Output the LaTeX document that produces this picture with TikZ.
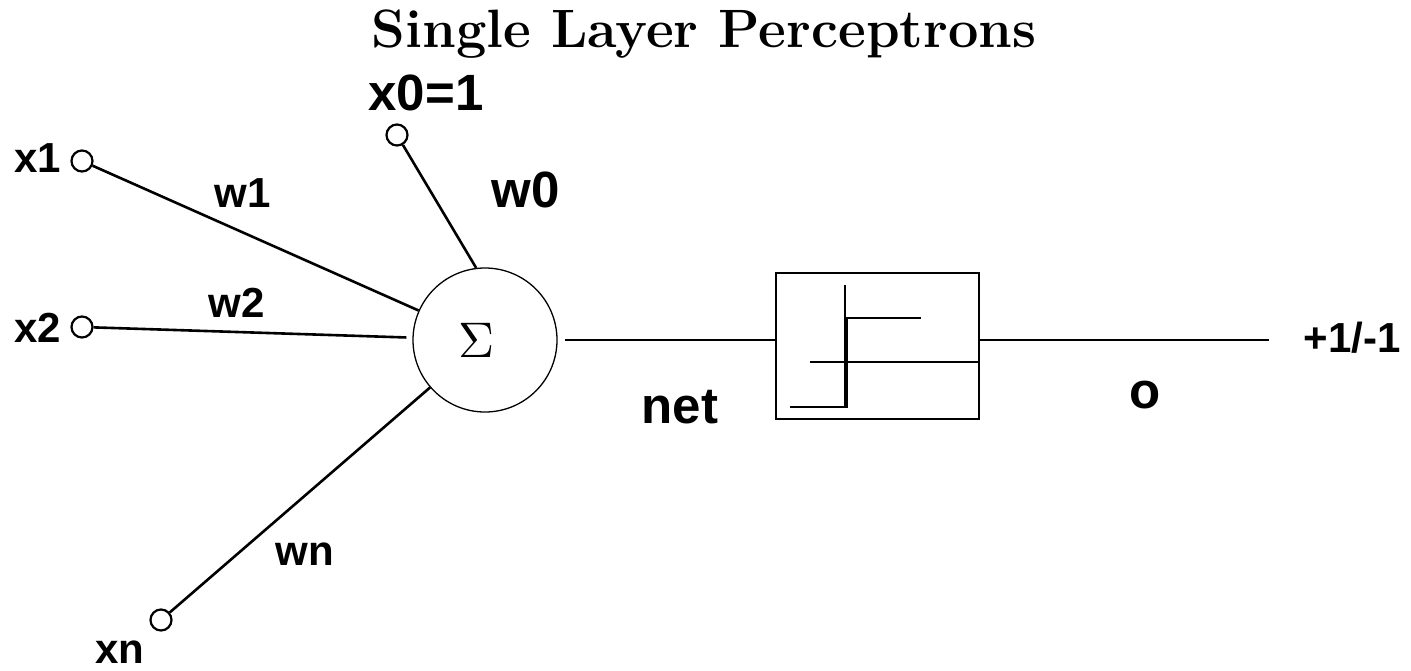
\documentclass[tikz,border=0pt]{standalone}
\usepackage{fix-cm}
\usepackage{fontspec}
\setsansfont{Liberation Sans}
\usetikzlibrary{calc}

\begin{document}
\begin{tikzpicture}[x=1pt,y=-1pt,
    inp/.style={draw,circle,line width=2.2pt,inner sep=0pt,minimum size=21pt},
    lab/.style={font=\sffamily\bfseries\fontsize{42}{42}\selectfont,inner sep=0pt,anchor=base},
    biglab/.style={lab,font=\sffamily\bfseries\fontsize{51}{51}\selectfont},
    wire/.style={line width=2.6pt}]
    \useasboundingbox (0,0) rectangle (1411,670);
    \node[font=\bfseries\fontsize{54}{54}\selectfont,anchor=base,inner sep=0pt] (title) at (704,47) {Single Layer Perceptrons};
    % summing unit and activation box
    \node[draw,circle,line width=1.3pt,minimum size=144pt,inner sep=0pt,font=\normalsize] (sum) at (485,340) {\scalebox{5}{$\Sigma$}\kern16pt};
    \node[draw,line width=2.6pt,minimum width=203pt,minimum height=146pt,inner sep=0pt] (act) at (877.5,346) {};
    \coordinate (out) at (1269,340);
    % inputs
    \node[inp] (x0) at (397,135) {};
    \node[inp] (x1) at (82,161) {};
    \node[inp] (x2) at (82,327) {};
    \node[inp] (xn) at (161,620) {};
    \draw[wire] (x0) -- (sum.97);
    \draw[wire] (x1) -- (sum);
    \draw[wire, shorten >=6pt] (x2) -- (sum);
    \draw[wire] (xn) -- (sum);
    \draw[wire, shorten <=7pt] (sum.east) -- (sum -| act.west);
    \draw[wire] (act.east |- sum) -- (out);
    % step function
    \draw[line width=1.3pt] (845,285) -- (845,407);
    \draw[line width=1.3pt] (810,362) -- (act.east |- 0,362);
    \draw[line width=2.6pt] (790,407) -- (847,407) -- (847,318) -- (921,318);
    % labels
    \node[biglab] (x0lab) at (426,110) {x0=1};
    \node[lab] (x1lab) at (38,172) {x1};
    \node[lab] (x2lab) at (38,342) {x2};
    \node[lab] (xnlab) at (120,663) {xn};
    \node[lab] (w1lab) at (243,207) {w1};
    \node[lab] (w2lab) at (237,317) {w2};
    \node[lab] (wnlab) at (305,565) {wn};
    \node[biglab] (w0lab) at (526,207) {w0};
    \node[biglab] (netlab) at (680,423) {net};
    \node[biglab] (olab) at (1145,408) {o};
    \node[lab] (outlab) at (1352,352) {+1/-1};
\end{tikzpicture}
\end{document}
